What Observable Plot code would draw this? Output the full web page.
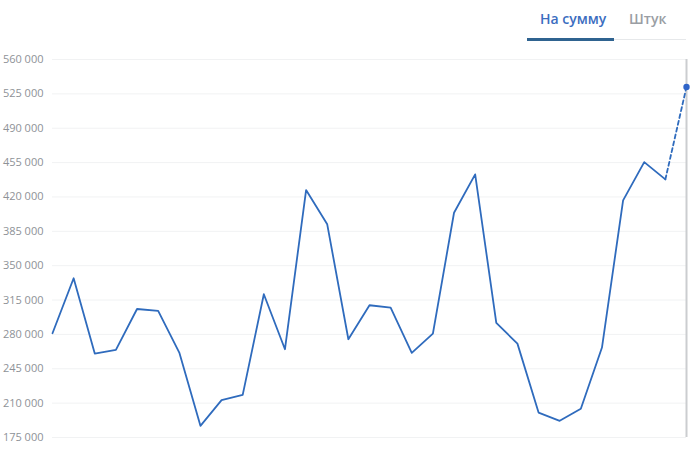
<!DOCTYPE html>
<html>
<head>
<meta charset="utf-8">
<script src="https://cdn.jsdelivr.net/npm/d3@7"></script>
<script src="https://cdn.jsdelivr.net/npm/@observablehq/plot@0.6"></script>
<style>
  html, body { margin: 0; padding: 0; background: #fff; }
  #wrap { width: 700px; }
  #header { position: relative; height: 48px; font-family: "Open Sans", sans-serif; }
  .tab { position: absolute; top: 9px; font-size: 14px; line-height: 19px; font-weight: 600; white-space: nowrap; }
  #t1 { left: 540px; color: #3b6dbf; }
  #t2 { left: 629px; color: #9a9ea4; }
  #u1 { position: absolute; left: 527px; top: 38px; width: 87px; height: 3px; background: #2f6390; }
  #u2 { position: absolute; left: 614px; top: 39px; width: 72px; height: 1px; background: #e6e8ea; }
  svg { display: block; }
</style>
</head>
<body>
<div id="wrap">
  <div id="header">
    <span class="tab" id="t1">На сумму</span>
    <span class="tab" id="t2">Штук</span>
    <div id="u1"></div>
    <div id="u2"></div>
  </div>
  <div id="chart"></div>
</div>
<script>
const days = d3.range(31);
const values = [
  281200, 337200, 260500, 264200, 305900, 303900, 261500, 186900, 213000, 218400,
  320900, 264900, 427000, 392100, 275100, 309700, 307300, 261200, 280800, 403900,
  443000, 291700, 270600, 200400, 192000, 204200, 266600, 416500, 455500, 437900,
  532100
];
const yTicks = [175000, 210000, 245000, 280000, 315000, 350000, 385000, 420000, 455000, 490000, 525000, 560000];

const data = days.map((d, i) => ({day: d, value: values[i]}));
const solid = data.slice(0, data.length - 1);
const dashed = data.slice(data.length - 2);
const last = data.slice(data.length - 1);

const fmt = v => d3.format(",")(v).replace(/,/g, " ");

const chart = Plot.plot({
  width: 700,
  height: 411,
  marginTop: 11,
  marginBottom: 22,
  marginLeft: 52,
  marginRight: 14,
  style: {fontFamily: "'Open Sans', sans-serif", fontSize: "11px", color: "#8e9297"},
  x: {domain: [0, 30], axis: null},
  y: {domain: [175000, 560000], ticks: yTicks, tickFormat: fmt, tickSize: 0, tickPadding: 9, label: null},
  marks: [
    Plot.gridY(yTicks, {stroke: "#f1f2f3", strokeOpacity: 1}),
    Plot.ruleX([30], {stroke: "#cbcdd0", strokeWidth: 2}),
    Plot.line(solid, {x: "day", y: "value", stroke: "#2f6bbd", strokeWidth: 1.8}),
    Plot.line(dashed, {x: "day", y: "value", stroke: "#2f6bbd", strokeWidth: 1.8, strokeDasharray: "4,3"}),
    Plot.dot(last, {x: "day", y: "value", r: 3.2, fill: "#2f64c8", stroke: "none"})
  ]
});
document.getElementById("chart").appendChild(chart);
</script>
</body>
</html>
